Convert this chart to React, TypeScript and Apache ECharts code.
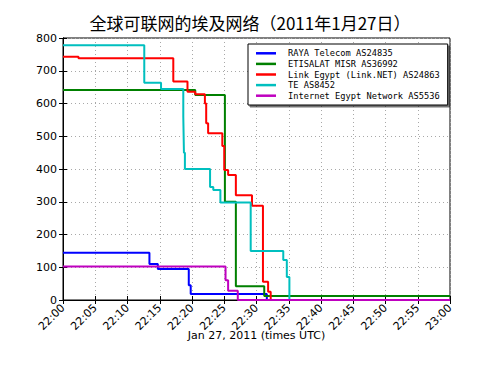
import React, { useEffect, useRef } from "react";
import * as echarts from "echarts";

const titleText = "全球可联网的埃及网络（2011年1月27日）";
const xAxisName = "Jan 27, 2011 (times UTC)";
const seriesNames = [
  "RAYA Telecom AS24835",
  "ETISALAT MISR AS36992",
  "Link Egypt (Link.NET) AS24863",
  "TE AS8452",
  "Internet Egypt Network AS5536",
];
const seriesColors = ["#0000ff", "#008000", "#ff0000", "#00bfbf", "#bf00bf"];

// minutes after 22:00 where the value changes, and the new value
const rayaMinutes = [0, 13.4, 14.7, 19.5, 19.8, 31.6, 60];
const rayaValues = [144, 110, 95, 45, 18, 0, 0];
const etisalatMinutes = [0, 20.5, 25.1, 26.8, 31.2, 60];
const etisalatValues = [641, 626, 300, 42, 12, 12];
const linkMinutes = [0, 2.4, 17.1, 19.3, 20.5, 22.0, 22.2, 22.5, 24.7, 25.0, 25.6, 26.8, 29.3, 31.0, 31.8, 32.2, 60];
const linkValues = [743, 738, 667, 636, 628, 600, 540, 509, 470, 397, 382, 320, 288, 56, 25, 0, 0];
const teMinutes = [0, 12.6, 15.2, 18.65, 18.75, 18.9, 22.8, 23.3, 24.4, 29.1, 34.15, 34.7, 35.1, 60];
const teValues = [778, 663, 644, 560, 450, 400, 345, 336, 298, 150, 122, 70, 0, 0];
const internetMinutes = [0, 25.2, 25.6, 27.1, 60];
const internetValues = [102, 60, 28, 0, 0];

const xTickMinutes = [0, 5, 10, 15, 20, 25, 30, 35, 40, 45, 50, 55, 60];
const yTicks = [0, 100, 200, 300, 400, 500, 600, 700, 800];

const allMinutes = [rayaMinutes, etisalatMinutes, linkMinutes, teMinutes, internetMinutes];
const allValues = [rayaValues, etisalatValues, linkValues, teValues, internetValues];

function fmtTime(m: number): string {
  const total = 22 * 60 + Math.round(m);
  const h = Math.floor(total / 60);
  const mm = total % 60;
  return `${h}:${mm < 10 ? "0" + mm : mm}`;
}

export default function App() {
  const ref = useRef<HTMLDivElement>(null);
  useEffect(() => {
    if (!ref.current) return;
    const chart = echarts.init(ref.current, null, { renderer: "svg" });
    const tickFont = { fontFamily: "DejaVu Sans", fontSize: 11, color: "#000" };
    const series = seriesNames.map((name, i) => ({
      name,
      type: "line",
      step: "end",
      showSymbol: false,
      symbol: "none",
      data: allMinutes[i].map((m, j) => [m, allValues[i][j]]),
      lineStyle: { color: seriesColors[i], width: 2 },
      itemStyle: { color: seriesColors[i] },
      z: 2 + i,
    }));
    chart.setOption({
      animation: false,
      backgroundColor: "#fff",
      title: {
        text: titleText,
        left: "center",
        top: 9,
        textStyle: { fontFamily: "Noto Sans CJK SC", fontSize: 17, fontWeight: "normal", color: "#000" },
      },
      grid: { left: 63, right: 50, top: 38, bottom: 75, show: true, borderColor: "#000", borderWidth: 1, backgroundColor: "#fff" },
      legend: {
        orient: "vertical",
        left: 248,
        top: 44,
        data: seriesNames,
        icon: "rect",
        itemWidth: 20,
        itemHeight: 2.5,
        itemGap: 0,
        padding: [4, 8, 4, 8],
        backgroundColor: "#fff",
        borderColor: "#000",
        borderWidth: 1,
        borderRadius: 0,
        shadowColor: "rgba(0,0,0,0.55)",
        shadowBlur: 0,
        shadowOffsetX: 2,
        shadowOffsetY: 2,
        textStyle: { fontFamily: "DejaVu Sans Mono", fontSize: 8.7, color: "#000", lineHeight: 10.6, padding: [0, 0, 0, 7] },
      },
      xAxis: [
        {
          type: "value",
          min: 0,
          max: 60,
          interval: 5,
          name: xAxisName,
          nameLocation: "middle",
          nameGap: 30,
          nameMoveOverlap: false,
          nameTextStyle: { fontFamily: "DejaVu Sans", fontSize: 11, color: "#000" },
          axisLine: { show: true, lineStyle: { color: "#000" } },
          axisTick: { show: true, inside: true, length: 4, lineStyle: { color: "#000" } },
          axisLabel: { ...tickFont, rotate: 45, margin: 6, formatter: (v: number) => fmtTime(v), customValues: xTickMinutes },
          splitLine: { show: true, lineStyle: { color: "#a8a8a8", type: [1, 3], width: 1 } },
        },
        {
          type: "value",
          position: "top",
          min: 0,
          max: 60,
          interval: 5,
          axisLine: { show: true, lineStyle: { color: "#000" } },
          axisTick: { show: true, inside: true, length: 4, lineStyle: { color: "#000" } },
          axisLabel: { show: false },
          splitLine: { show: false },
        },
      ],
      yAxis: [
        {
          type: "value",
          min: 0,
          max: 800,
          interval: 100,
          axisLine: { show: true, lineStyle: { color: "#000" } },
          axisTick: { show: true, inside: true, length: 4, lineStyle: { color: "#000" } },
          axisLabel: { ...tickFont, margin: 6, customValues: yTicks },
          splitLine: { show: true, lineStyle: { color: "#a8a8a8", type: [1, 3], width: 1 } },
        },
        {
          type: "value",
          position: "right",
          min: 0,
          max: 800,
          interval: 100,
          axisLine: { show: true, lineStyle: { color: "#000" } },
          axisTick: { show: true, inside: true, length: 4, lineStyle: { color: "#000" } },
          axisLabel: { show: false },
          splitLine: { show: false },
        },
      ],
      series,
    });
    return () => chart.dispose();
  }, []);
  return <div ref={ref} style={{ position: "fixed", left: 0, top: 0, width: 500, height: 375 }} />;
}
